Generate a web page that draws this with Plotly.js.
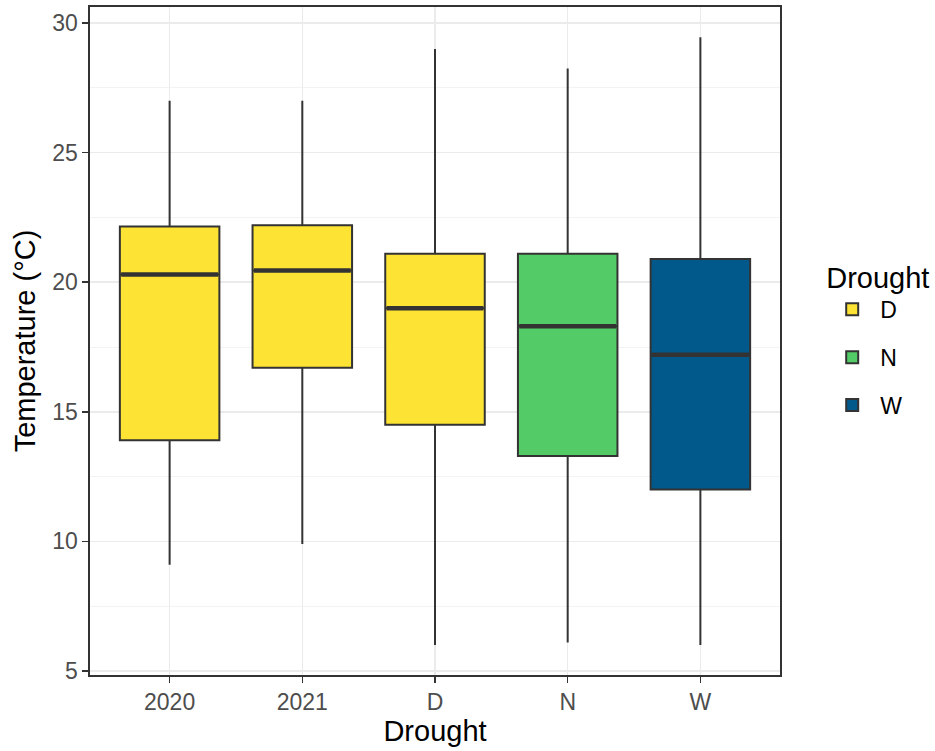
<!DOCTYPE html>
<html>
<head>
<meta charset="utf-8">
<script src="https://cdn.plot.ly/plotly-3.0.1.min.js"></script>
<style>
  html, body { margin: 0; padding: 0; background: #ffffff; }
  #chart { width: 935px; height: 751px; }
</style>
</head>
<body>
<div id="chart"></div>
<script>
// Temperature summaries per drought group (°C)
const categories = ['2020', '2021', 'D', 'N', 'W'];
const groups     = ['D', 'D', 'D', 'N', 'W'];
const lowerWhisker = [9.1, 9.9, 6.0, 6.1, 6.0];
const q1           = [13.9, 16.7, 14.5, 13.3, 12.0];
const median       = [20.3, 20.45, 19.0, 18.3, 17.2];
const q3           = [22.15, 22.2, 21.1, 21.1, 20.9];
const upperWhisker = [27.0, 27.0, 29.0, 28.25, 29.45];

const groupNames  = ['D', 'N', 'W'];
const groupColors = { D: '#FDE333', N: '#53CC67', W: '#00588B' };

const boxWidth = 0.75;
const ink = '#333333';

const traces = groupNames.map(g => {
  const idx = categories.map((c, i) => i).filter(i => groups[i] === g);
  return {
    type: 'box',
    name: g,
    legendgroup: g,
    x: idx.map(i => categories[i]),
    q1: idx.map(i => q1[i]),
    median: idx.map(i => median[i]),
    q3: idx.map(i => q3[i]),
    lowerfence: idx.map(i => lowerWhisker[i]),
    upperfence: idx.map(i => upperWhisker[i]),
    boxpoints: false,
    width: boxWidth,
    whiskerwidth: 0,
    fillcolor: groupColors[g],
    line: { color: ink, width: 2 },
    hoverinfo: 'skip'
  };
});

// thicker median bars drawn on top of each box
const shapes = categories.map((c, i) => ({
  type: 'line',
  xref: 'x', yref: 'y',
  x0: i - boxWidth / 2 + 0.01, x1: i + boxWidth / 2 - 0.01,
  y0: median[i], y1: median[i],
  line: { color: ink, width: 4.5 },
  layer: 'above'
}));

const layout = {
  width: 935,
  height: 751,
  margin: { l: 90, r: 155, t: 7, b: 76 },
  paper_bgcolor: '#ffffff',
  plot_bgcolor: '#ffffff',
  font: { family: 'Liberation Sans, Arial, sans-serif', color: '#000000' },
  boxmode: 'overlay',
  showlegend: true,
  shapes: shapes,
  xaxis: {
    type: 'category',
    categoryorder: 'array',
    categoryarray: categories,
    range: [-0.6, 4.6],
    automargin: false,
    showgrid: true,
    gridcolor: '#EBEBEB',
    gridwidth: 1.6,
    zeroline: false,
    showline: true,
    linecolor: ink,
    linewidth: 1.6,
    mirror: true,
    ticks: 'outside',
    ticklen: 6,
    tickwidth: 1.6,
    tickcolor: ink,
    tickfont: { size: 23, color: '#4D4D4D' },
    title: { text: 'Drought', font: { size: 29, color: '#000000' }, standoff: 6 }
  },
  yaxis: {
    range: [4.846, 30.62],
    tickvals: [5, 10, 15, 20, 25, 30],
    automargin: false,
    showgrid: true,
    gridcolor: '#EBEBEB',
    gridwidth: 1.6,
    minor: { tickvals: [7.5, 12.5, 17.5, 22.5, 27.5], showgrid: true, gridcolor: '#F3F3F3', gridwidth: 1, ticks: '' },
    zeroline: false,
    showline: true,
    linecolor: ink,
    linewidth: 1.6,
    mirror: true,
    ticks: 'outside',
    ticklen: 6,
    tickwidth: 1.6,
    tickcolor: ink,
    tickfont: { size: 23, color: '#4D4D4D' },
    title: { text: 'Temperature (°C)', font: { size: 29, color: '#000000' }, standoff: 8 }
  },
  legend: {
    xref: 'container', yref: 'container',
    x: 0.8815, xanchor: 'left',
    y: 0.667, yanchor: 'top',
    traceorder: 'grouped',
    tracegroupgap: 15,
    itemwidth: 46,
    font: { size: 23, color: '#000000' },
    title: { text: 'Drought', font: { size: 29, color: '#000000' } },
    bgcolor: 'rgba(0,0,0,0)'
  }
};

Plotly.newPlot('chart', traces, layout, { displayModeBar: false, staticPlot: true });
</script>
</body>
</html>
